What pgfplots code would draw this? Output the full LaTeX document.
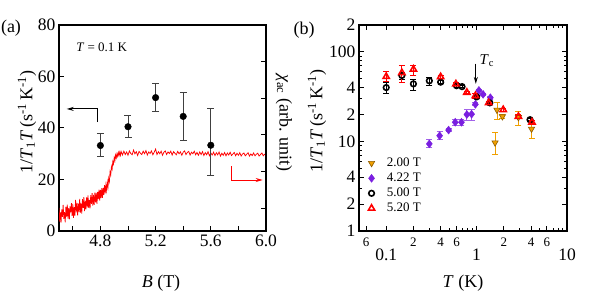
\documentclass[border=0pt]{standalone}
\usepackage{fontspec}
\setmainfont{Liberation Serif}
\usepackage{pgfplots}
\pgfplotsset{compat=1.18}
\usetikzlibrary{arrows.meta}
\definecolor{myorange}{HTML}{F0A000}
\definecolor{mybrown}{HTML}{8B5A00}
\definecolor{mypurple}{HTML}{7A1FE0}
\definecolor{errgray}{HTML}{404040}
\begin{document}
\begin{tikzpicture}
\useasboundingbox (0,0) rectangle (611pt,307pt);
\pgfplotsset{every axis/.append style={scale only axis,
  font=\fontsize{17.5}{20}\selectfont,
  tick align=inside,
  axis line style={line width=1.1pt},
  every tick/.append style={line width=1pt, black},
  major tick length=5pt, minor tick length=3pt,
  /pgf/number format/assume math mode=true}}
% ---------------- panel (a)
\begin{axis}[at={(59pt,76pt)}, anchor=south west, width=207pt, height=206pt,
  xmin=4.5, xmax=6.0, ymin=0, ymax=80,
  xtick={4.8,5.2,5.6,6.0}, xticklabels={4.8,5.2,5.6,6.0},
  minor xtick={4.6,5.0,5.4,5.8}, minor tick length=5pt,
  ytick={0,20,40,60,80}, yticklabels={0,20,40,60,80},
  xtick pos=bottom, ytick pos=left, clip=true]
\addplot[red, line width=0.75pt] table {
4.500 9.0
4.505 3.6
4.510 7.2
4.515 3.3
4.520 8.4
4.525 5.5
4.530 10.1
4.535 4.7
4.540 7.3
4.545 3.4
4.550 9.5
4.555 5.6
4.560 10.2
4.565 4.8
4.570 8.9
4.575 4.5
4.580 9.6
4.585 7.2
4.590 10.8
4.595 5.9
4.600 10.5
4.605 5.15
4.610 9.3
4.615 5.95
4.620 12.1
4.625 7.25
4.630 10.9
4.635 6.05
4.640 10.7
4.645 7.35
4.650 12.5
4.655 7.1
4.660 10.7
4.665 6.8
4.670 12.4
4.675 9.0
4.680 13.1
4.685 7.7
4.690 11.8
4.695 8.4
4.700 13.0
4.705 9.15
4.710 13.8
4.715 8.95
4.720 12.1
4.725 8.75
4.730 13.9
4.735 10.55
4.740 14.7
4.745 9.85
4.750 14.0
4.755 10.2
4.760 14.9
4.765 11.1
4.770 14.8
4.775 10.5
4.780 15.2
4.785 12.4
4.790 16.1
4.795 11.8
4.800 16.0
4.805 12.8
4.810 16.6
4.815 12.9
4.820 16.7
4.825 14.0
4.830 17.8
4.835 14.6
4.840 17.9
4.845 15.7
4.850 19.0
4.855 17.0
4.860 20.5
4.865 19.2
4.870 23.0
4.875 21.8
4.880 25.0
4.885 24.0
4.890 27.0
4.895 26.0
4.900 28.5
4.905 27.3
4.910 29.5
4.915 28.4
4.920 30.0
4.925 29.0
4.930 30.5
4.935 29.3
4.940 30.6
4.945 29.4
4.950 30.9
4.96 29.5
4.97 31.0
4.98 29.7
4.99 30.7
5.00 29.4
5.01 31.1
5.02 30.1
5.03 29.6
5.04 31.4
5.05 30.0
5.06 30.8
5.07 29.3
5.08 30.9
5.09 30.2
5.10 29.7
5.11 31.0
5.12 30.0
5.13 31.2
5.14 29.5
5.15 30.7
5.16 30.1
5.17 31.1
5.18 29.6
5.19 30.6
5.20 31.8
5.21 29.7
5.22 30.8
5.23 30.0
5.24 31.0
5.25 29.4
5.26 30.6
5.27 31.1
5.28 29.7
5.29 30.7
5.30 30.1
5.31 31.0
5.32 29.5
5.33 30.8
5.34 30.2
5.35 29.6
5.36 30.9
5.37 30.0
5.38 30.7
5.39 29.4
5.40 30.6
5.41 31.1
5.42 29.7
5.43 30.5
5.44 30.9
5.45 29.5
5.46 30.6
5.47 30.0
5.48 31.0
5.49 29.6
5.50 30.5
5.51 29.4
5.52 30.7
5.53 29.7
5.54 30.8
5.55 29.3
5.56 30.4
5.57 29.6
5.58 30.8
5.59 29.2
5.60 30.3
5.61 29.5
5.62 30.6
5.63 29.3
5.64 30.4
5.65 29.6
5.66 30.7
5.67 29.1
5.68 30.2
5.69 29.4
5.70 30.5
5.71 29.2
5.72 30.3
5.73 29.5
5.74 30.6
5.75 29.3
5.76 29.9
5.77 30.5
5.78 29.2
5.79 30.2
5.80 29.4
5.81 30.4
5.82 29.1
5.83 29.9
5.84 30.3
5.85 29.2
5.86 29.8
5.87 30.4
5.88 29.1
5.89 29.9
5.90 29.3
5.91 30.3
5.92 29.2
5.93 29.8
5.94 30.2
5.95 29.1
5.96 29.7
5.97 30.3
5.98 29.2
5.99 29.8
6.00 29.6
};
\addplot[only marks, mark=*, mark size=3.3pt, black,
  error bars/.cd, y dir=both, y explicit,
  error bar style={errgray, line width=0.8pt},
  error mark options={rotate=90, mark size=3.5pt, line width=0.8pt, errgray}]
coordinates {
(4.8,33.2) += (0,4.7) -= (0,4.2)
(5.0,40.5) += (0,4.4) -= (0,4.1)
(5.2,51.8) += (0,5.7) -= (0,5.3)
(5.4,44.5) += (0,9.5) -= (0,9.2)
(5.6,33.3) += (0,14.2) -= (0,11.9)
};
\draw[black, line width=0.9pt, -{Stealth[length=7pt,width=4pt]}] (axis cs:4.78,42.3) -- (axis cs:4.78,47.4) -- (axis cs:4.556,47.4);
\draw[red, line width=0.9pt, -{Stealth[length=7pt,width=4pt]}] (axis cs:5.75,25.2) -- (axis cs:5.75,19.8) -- (axis cs:5.976,19.8);
\node[anchor=west, font=\fontsize{13}{15}\selectfont] at (axis cs:4.60,71.5) {\textit{T} = 0.1 K};
\end{axis}
% right-hand ticks of panel (a)
\begin{axis}[at={(59pt,76pt)}, anchor=south west, width=207pt, height=206pt,
  xmin=4.5, xmax=6.0, ymin=0, ymax=80,
  axis y line*=right, axis x line=none,
  ytick={8.9,23.1,37.3,51.5,65.7,79.9}, yticklabels={}, minor ytick={}]
\end{axis}
% ---------------- panel (b)
\begin{axis}[at={(359pt,76pt)}, anchor=south west, width=208pt, height=206pt,
  xmode=log, ymode=log, xmin=0.05, xmax=10, ymin=1, ymax=200,
  xtick={0.1,1,10}, xticklabels={0.1,1,10},
  xticklabel style={yshift=-14pt},
  extra x ticks={0.06,0.2,0.4,0.6,2,4,6},
  extra x tick labels={6,2,4,6,2,4,6},
  extra x tick style={xticklabel style={yshift=11pt, font=\fontsize{13}{15}\selectfont}},
  ytick={1,10,100}, yticklabels={1,10,100},
  extra y ticks={2,4,20,40,200},
  extra y tick labels={2,4,2,4,2},
  legend style={draw=none, fill=none, at={(axis description cs:0.03,0.37)}, anchor=north west,
    font=\fontsize{13}{15}\selectfont, row sep=2.5pt, nodes={inner sep=1.2pt},
    column sep=11pt},
  legend cell align=left]
\addplot[only marks, mark=triangle*, mark size=3.6pt,
  mark options={rotate=180, fill=myorange, draw=mybrown, line width=0.6pt},
  error bars/.cd, y dir=both, y explicit,
  error bar style={myorange, line width=0.8pt},
  error mark options={rotate=90, mark size=3pt, line width=0.8pt, myorange}]
coordinates {
(1.6,9.7) += (0,3.0) -= (0,2.6)
(1.68,22.5) += (0,4.8) -= (0,5.0)
(1.93,19.0) += (0,1.0) -= (0,1.0)
(2.9,18.6) += (0,3.1) -= (0,3.3)
(4.05,13.8) += (0,2.6) -= (0,3.1)
};
\addlegendentry{2.00 T}
\addplot[only marks, mark=diamond*, mark size=4pt,
  mark options={fill=mypurple, draw=mypurple},
  error bars/.cd, y dir=both, y explicit,
  error bar style={mypurple!70, line width=0.8pt},
  error mark options={rotate=90, mark size=3pt, line width=0.8pt, mypurple!70}]
coordinates {
(0.3,9.4) += (0,1.1) -= (0,0.9)
(0.39,11.6) += (0,1.2) -= (0,1.1)
(0.49,13.4) += (0,0.5) -= (0,0.5)
(0.58,16.4) += (0,1.3) -= (0,1.3)
(0.68,16.4) += (0,1.3) -= (0,1.3)
(0.78,20.0) += (0,2.6) -= (0,3.0)
(0.88,20.2) += (0,2.6) -= (0,3.0)
(0.97,26.0) += (0,1.0) -= (0,1.0)
(1.06,37.2) += (0,1.0) -= (0,1.0)
(1.18,33.6) += (0,1.0) -= (0,1.0)
(1.42,30.8) += (0,1.0) -= (0,1.0)
};
\addlegendentry{4.22 T}
\addplot[only marks, mark=o, mark size=2.8pt,
  mark options={draw=black, fill=white, line width=1.6pt},
  error bars/.cd, y dir=both, y explicit,
  error bar style={black, line width=0.8pt},
  error mark options={rotate=90, mark size=3pt, line width=0.8pt, black}]
coordinates {
(0.1,40.0) += (0,5.5) -= (0,5.6)
(0.149,54.6) += (0,5.0) -= (0,5.0)
(0.2,44.0) += (0,5.2) -= (0,6.5)
(0.3,47.6) += (0,5.0) -= (0,5.0)
(0.4,46.0) += (0,1.5) -= (0,1.5)
(0.6,42.0) += (0,2.0) -= (0,2.0)
(0.69,41.0) += (0,1.0) -= (0,1.0)
(1.0,31.5) += (0,1.0) -= (0,1.0)
(1.4,27.0) += (0,1.0) -= (0,1.0)
(3.9,17.5) += (0,0.5) -= (0,0.5)
};
\addlegendentry{5.00 T}
\addplot[only marks, mark=triangle, mark size=3.6pt,
  mark options={draw=red, fill=white, line width=1.6pt},
  error bars/.cd, y dir=both, y explicit,
  error bar style={red, line width=0.8pt},
  error mark options={rotate=90, mark size=3pt, line width=0.8pt, red}]
coordinates {
(0.1,53.0) += (0,7.5) -= (0,6.0)
(0.149,58.5) += (0,12.5) -= (0,13.0)
(0.2,64.0) += (0,7.0) -= (0,9.0)
(0.4,52.7) += (0,2.0) -= (0,2.0)
(0.59,43.8) += (0,2.0) -= (0,2.0)
(0.78,35.3) += (0,1.0) -= (0,1.0)
(0.97,32.4) += (0,2.0) -= (0,2.0)
(1.36,27.0) += (0,1.0) -= (0,1.0)
(1.97,22.6) += (0,1.0) -= (0,1.0)
(2.9,19.0) += (0,1.0) -= (0,1.0)
(4.1,16.4) += (0,1.0) -= (0,1.0)
};
\addlegendentry{5.20 T}
\draw[black, line width=0.9pt, -{Stealth[length=7pt,width=4pt]}] (axis cs:0.98,74) -- (axis cs:0.98,44);
\node[font=\fontsize{15}{17}\selectfont] at (axis cs:1.3,80) {\textit{T}\textsubscript{c}};
\end{axis}
% ---------------- labels
\node[font=\fontsize{18}{20}\selectfont] at (11pt,279pt) {(a)};
\node[font=\fontsize{18}{20}\selectfont] at (304pt,277pt) {(b)};
\node[rotate=90, font=\fontsize{18}{20}\selectfont] at (27pt,185pt) {1/\textit{T}\textsubscript{1}\textit{T}\,(s\textsuperscript{-1}\,K\textsuperscript{-1})};
\node[rotate=-90, font=\fontsize{18}{20}\selectfont] at (284pt,184pt) {\textit{χ}\textsubscript{ac} (arb. unit)};
\node[rotate=90, font=\fontsize{18}{20}\selectfont] at (317pt,186pt) {1/\textit{T}\textsubscript{1}\textit{T}\,(s\textsuperscript{-1}\,K\textsuperscript{-1})};
\node[font=\fontsize{18}{20}\selectfont] at (161pt,24pt) {\textit{B} (T)};
\node[font=\fontsize{18}{20}\selectfont] at (463pt,24pt) {\textit{T} (K)};
\end{tikzpicture}
\end{document}
